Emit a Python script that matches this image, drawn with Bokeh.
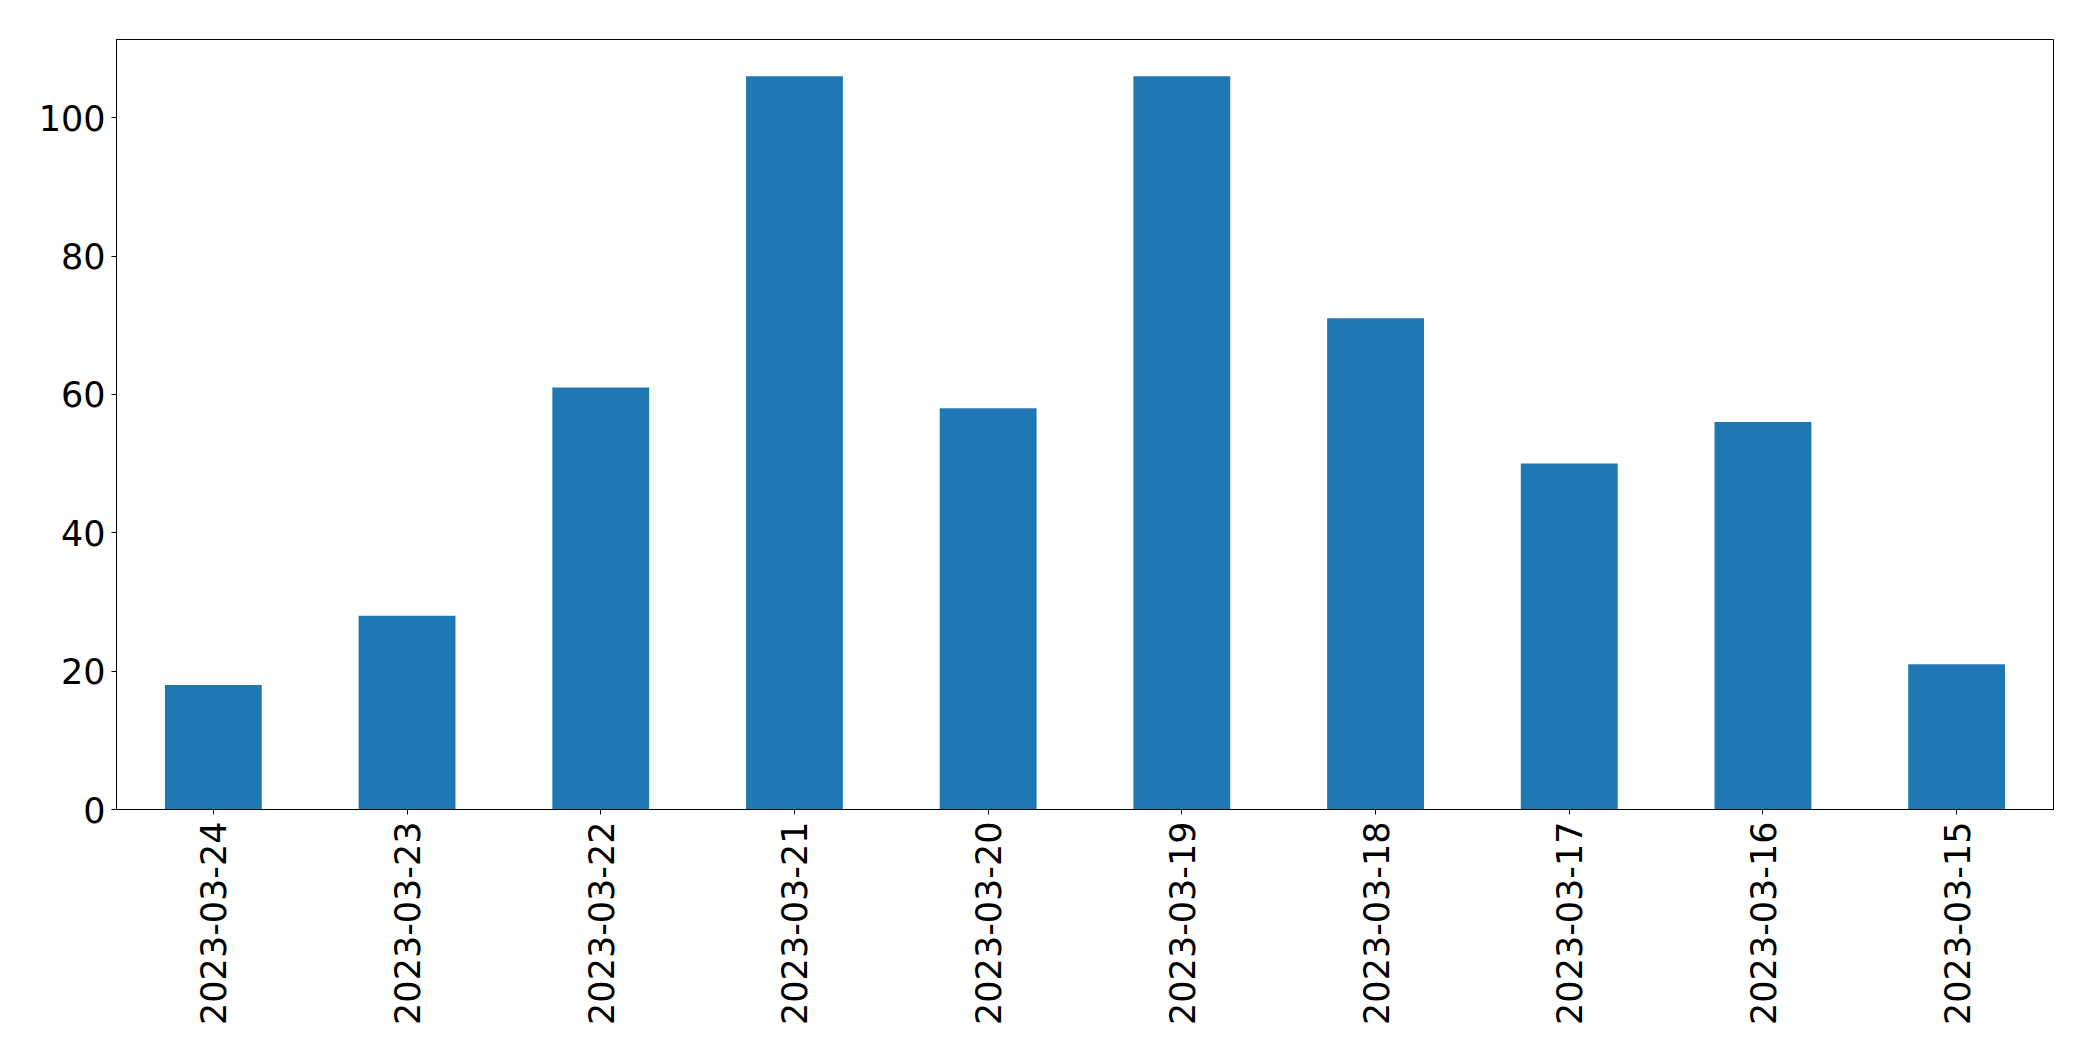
import math
from bokeh.plotting import figure
from bokeh.models import Range1d, FixedTicker
from bokeh.embed import file_html
from bokeh.resources import INLINE

dates = ["2023-03-24", "2023-03-23", "2023-03-22", "2023-03-21", "2023-03-20",
         "2023-03-19", "2023-03-18", "2023-03-17", "2023-03-16", "2023-03-15"]
counts = [18, 28, 61, 106, 58, 106, 71, 50, 56, 21]
y_ticks = [0, 20, 40, 60, 80, 100]

p = figure(x_range=dates, y_range=Range1d(0, max(counts) * 1.05),
           frame_width=1937, frame_height=770,
           output_backend="svg", toolbar_location=None,
           min_border_left=116, min_border_top=39, min_border_right=20,
           min_border_bottom=220, background_fill_color="white",
           border_fill_color="white")

p.vbar(x=dates, top=counts, width=0.5, fill_color="#1f77b4", line_color=None)

p.xgrid.visible = False
p.ygrid.visible = False
p.outline_line_color = "black"
p.outline_line_width = 1
p.outline_line_alpha = 1

for ax in (p.xaxis[0], p.yaxis[0]):
    ax.axis_line_color = "black"
    ax.major_tick_line_color = "black"
    ax.major_tick_out = 5
    ax.major_tick_in = 0
    ax.minor_tick_line_color = None
    ax.major_label_text_font = "DejaVu Sans"
    ax.major_label_text_font_size = "35px"
    ax.major_label_text_color = "black"

p.yaxis[0].ticker = FixedTicker(ticks=y_ticks)
p.yaxis[0].major_label_standoff = 6
p.xaxis[0].major_label_orientation = math.pi / 2
p.xaxis[0].major_label_standoff = 7

open("out.html", "w").write(file_html(p, INLINE))
